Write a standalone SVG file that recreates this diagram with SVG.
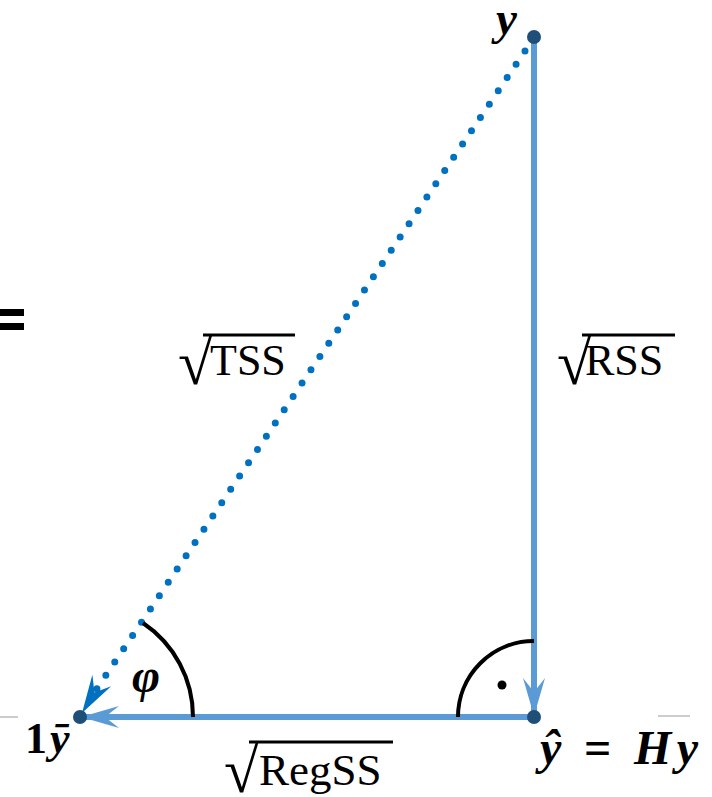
<svg xmlns="http://www.w3.org/2000/svg" width="712" height="797" viewBox="0 0 712 797">
<style>
.lab{font-family:"Liberation Serif","DejaVu Serif",serif;fill:#000}
.math{font-family:"Liberation Serif","DejaVu Serif",serif;font-weight:bold;font-style:italic;fill:#000}
.arc{fill:none;stroke:#000;stroke-width:4}
.node{fill:#1F4E79}
.vinc{stroke:#000;stroke-width:3}
</style>
<defs>
<marker id="ahLight" viewBox="0 0 40 24" refX="38" refY="12" markerUnits="userSpaceOnUse" markerWidth="40" markerHeight="24" orient="auto">
<path d="M0,1 L38,12 L0,23 L14,12 Z" fill="#5B9BD5"/>
</marker>
<marker id="ahDark" viewBox="0 0 40 24" refX="38" refY="12" markerUnits="userSpaceOnUse" markerWidth="40" markerHeight="24" orient="auto">
<path d="M0,1 L38,12 L0,23 L14,12 Z" fill="#0070C0"/>
</marker>
</defs>
<rect width="712" height="797" fill="#fff"/>
<g id="decor">
<rect x="0" y="309" width="24" height="7" fill="#000"/>
<rect x="0" y="323" width="24" height="7" fill="#000"/>
<line x1="0" y1="717" x2="18" y2="717" stroke="#bbb" stroke-width="1.5"/>
<line x1="658" y1="716" x2="690" y2="716" stroke="#bbb" stroke-width="1.5"/>
</g>
<g id="connectors">
<line x1="534" y1="37" x2="534" y2="716" stroke="#5B9BD5" stroke-width="6" marker-end="url(#ahLight)"/>
<line x1="534" y1="717" x2="81" y2="717" stroke="#5B9BD5" stroke-width="6" marker-end="url(#ahLight)"/>
<line x1="525" y1="51" x2="96" y2="690" stroke="#0070C0" stroke-width="7" stroke-linecap="round" stroke-dasharray="0 16"/>
<line x1="96" y1="690" x2="82" y2="713" stroke="none" marker-end="url(#ahDark)"/>
</g>
<g id="angles">
<path class="arc" d="M143,623 A113,113 0 0 1 193,717"/>
<path class="arc" d="M458,717 A76,76 0 0 1 534,641"/>
<circle cx="502" cy="685" r="4.5" fill="#000"/>
</g>
<g id="node-y">
<circle class="node" cx="534" cy="37" r="7"/>
<text class="math" x="496" y="34" font-size="47">y</text>
</g>
<g id="node-ybar">
<circle class="node" cx="80" cy="717" r="7"/>
<text class="lab" x="25" y="753" font-size="44" font-weight="bold">1<tspan font-style="italic" dx="3">ȳ</tspan></text>
</g>
<g id="node-yhat">
<circle class="node" cx="534" cy="717" r="7"/>
<text class="math" x="540" y="764" font-size="48" textLength="158" lengthAdjust="spacing">ŷ <tspan font-style="normal">=</tspan> Hy</text>
</g>
<g id="label-tss">
<line class="vinc" x1="203" y1="335" x2="295" y2="335"/>
<text class="lab" x="178" y="384" font-size="63">√<tspan x="210" y="375" font-size="44">TSS</tspan></text>
</g>
<g id="label-rss">
<line class="vinc" x1="582" y1="335" x2="675" y2="335"/>
<text class="lab" x="557" y="384" font-size="63">√<tspan x="585" y="375" font-size="44">RSS</tspan></text>
</g>
<g id="label-regss">
<line class="vinc" x1="249" y1="742" x2="393" y2="742"/>
<text class="lab" x="224" y="792" font-size="63">√<tspan x="259" y="785" font-size="45">RegSS</tspan></text>
</g>
<g id="label-phi">
<text class="math" x="132" y="692" font-size="48">φ</text>
</g>
</svg>
